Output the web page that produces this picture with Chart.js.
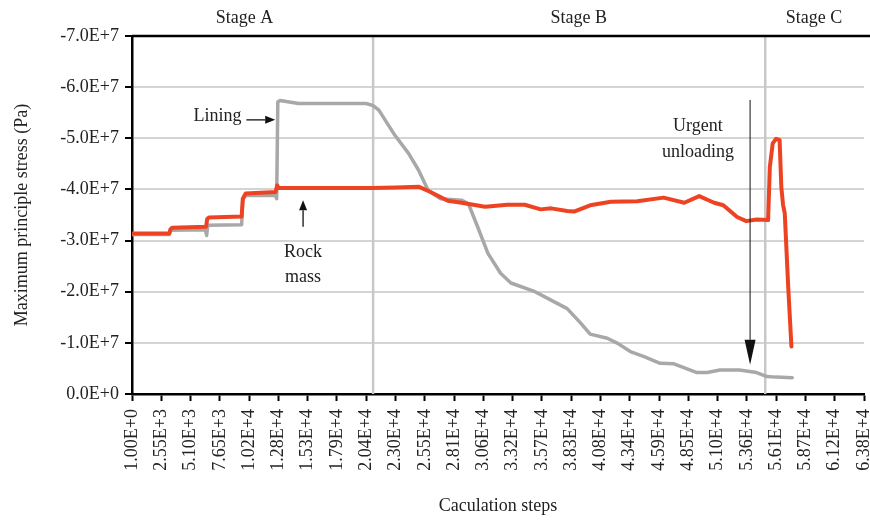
<!DOCTYPE html>
<html>
<head>
<meta charset="utf-8">
<script src="https://cdn.jsdelivr.net/npm/chart.js@4.4.0/dist/chart.umd.min.js"></script>
<style>
html,body{margin:0;padding:0;background:#fff;}
#wrap{width:870px;height:524px;}
</style>
</head>
<body>
<div id="wrap"><canvas id="c" width="870" height="524"></canvas></div>
<script>
// ---- data ----
const xTickValues = [1,2551,5101,7651,10201,12751,15301,17851,20401,22951,25501,28051,30601,33151,35701,38251,40801,43351,45901,48451,51001,53551,56101,58651,61201,63751];
const xTickLabels = ["1.00E+0","2.55E+3","5.10E+3","7.65E+3","1.02E+4","1.28E+4","1.53E+4","1.79E+4","2.04E+4","2.30E+4","2.55E+4","2.81E+4","3.06E+4","3.32E+4","3.57E+4","3.83E+4","4.08E+4","4.34E+4","4.59E+4","4.85E+4","5.10E+4","5.36E+4","5.61E+4","5.87E+4","6.12E+4","6.38E+4"];

// Rock mass (red)
const rockSteps  = [1,3250,3350,3500,6450,6550,6700,9550,9650,9900,12500,12650,12750,12900,14000,20900,23000,25000,26000,27500,28700,30750,32700,34200,35600,36500,37900,38550,39900,41700,44000,46300,48100,49400,50700,51500,52700,53500,54400,55400,55550,55800,56100,56400,56550,56700,56850,57150,57430];
const rockStress = [-3.14,-3.14,-3.22,-3.25,-3.27,-3.42,-3.45,-3.47,-3.82,-3.92,-3.95,-4.08,-4.03,-4.03,-4.03,-4.03,-4.04,-4.05,-3.95,-3.78,-3.74,-3.66,-3.70,-3.70,-3.61,-3.63,-3.58,-3.57,-3.69,-3.76,-3.77,-3.84,-3.74,-3.87,-3.74,-3.69,-3.46,-3.38,-3.41,-3.40,-4.44,-4.90,-4.99,-4.97,-4.05,-3.70,-3.53,-2.10,-0.93];

// Lining (gray)
const liningSteps  = [1,3250,3350,6400,6500,6600,9550,9650,9900,12500,12600,12700,12900,14500,20400,21000,21500,22800,24100,24950,25800,26850,28700,29300,30100,31000,32100,33000,35100,36200,37900,39100,39900,41400,42300,43400,44600,46000,47200,49200,50100,51200,52900,54400,55300,56100,57500];
const liningStress = [-3.12,-3.12,-3.20,-3.21,-3.10,-3.30,-3.31,-3.80,-3.88,-3.88,-3.82,-5.71,-5.74,-5.68,-5.68,-5.64,-5.55,-5.09,-4.70,-4.38,-3.98,-3.82,-3.79,-3.72,-3.27,-2.75,-2.36,-2.17,-2.00,-1.87,-1.67,-1.38,-1.17,-1.09,-0.99,-0.83,-0.73,-0.60,-0.59,-0.42,-0.42,-0.47,-0.47,-0.42,-0.34,-0.33,-0.32];

const stageBounds = [21000, 55150];
const stageNames = ["Stage A","Stage B","Stage C"];
const stageLabelX = [9800, 38900, 59400];
const E7 = 1e7;

const FONT = "'Liberation Serif', 'DejaVu Serif', serif";

function toXY(xs, ys){ return xs.map((x,i)=>({x:x, y:ys[i]*E7})); }

const annot = {
  id:'annot',
  beforeDatasetsDraw(chart){
    const {ctx, chartArea:a, scales:{x,y}} = chart;
    ctx.save();
    ctx.strokeStyle = '#c8c8c8';
    ctx.lineWidth = 2.5;
    stageBounds.forEach(v=>{
      const px = x.getPixelForValue(v);
      ctx.beginPath(); ctx.moveTo(px, a.top); ctx.lineTo(px, a.bottom); ctx.stroke();
    });
    ctx.restore();
  },
  afterDraw(chart){
    const {ctx, chartArea:a, scales:{x,y}} = chart;
    ctx.save();
    ctx.fillStyle = '#222';
    ctx.font = "18px " + FONT;
    ctx.textBaseline = 'middle';
    ctx.textAlign = 'center';
    stageNames.forEach((s,i)=>{
      ctx.fillText(s, x.getPixelForValue(stageLabelX[i]), a.top - 18);
    });
    // top border
    ctx.strokeStyle = '#000';
    ctx.lineWidth = 2.5;
    ctx.beginPath(); ctx.moveTo(a.left, a.top); ctx.lineTo(chart.width, a.top); ctx.stroke();

    // Lining label
    ctx.textAlign = 'right';
    ctx.fillText('Lining', x.getPixelForValue(9530), y.getPixelForValue(-5.44*E7));
    arrow(ctx, x.getPixelForValue(9960), y.getPixelForValue(-5.36*E7), x.getPixelForValue(12470), y.getPixelForValue(-5.36*E7), 1.3, 10, 4);
    // Rock mass
    ctx.textAlign = 'center';
    const rx = x.getPixelForValue(14900);
    ctx.fillText('Rock', rx, y.getPixelForValue(-2.78*E7));
    ctx.fillText('mass', rx, y.getPixelForValue(-2.29*E7));
    arrow(ctx, rx, y.getPixelForValue(-3.27*E7), rx, y.getPixelForValue(-3.79*E7), 1.3, 10, 4);
    // Urgent unloading
    const ux = x.getPixelForValue(49290);
    ctx.fillText('Urgent', ux, y.getPixelForValue(-5.24*E7));
    ctx.fillText('unloading', ux, y.getPixelForValue(-4.73*E7));
    const ax = x.getPixelForValue(53830);
    arrow(ctx, ax, y.getPixelForValue(-5.75*E7), ax, y.getPixelForValue(-0.57*E7), 1, 25, 5.5);
    ctx.restore();
  }
};

function arrow(ctx, x1, y1, x2, y2, lw, hl, hw){
  const ang = Math.atan2(y2-y1, x2-x1);
  const bx = x2 - hl*Math.cos(ang), by = y2 - hl*Math.sin(ang);
  ctx.save();
  ctx.strokeStyle = '#111'; ctx.fillStyle = '#111';
  ctx.lineWidth = lw;
  ctx.beginPath(); ctx.moveTo(x1,y1); ctx.lineTo(bx,by); ctx.stroke();
  ctx.beginPath();
  ctx.moveTo(x2,y2);
  ctx.lineTo(bx + hw*Math.sin(ang), by - hw*Math.cos(ang));
  ctx.lineTo(bx - hw*Math.sin(ang), by + hw*Math.cos(ang));
  ctx.closePath(); ctx.fill();
  ctx.restore();
}

new Chart(document.getElementById('c'), {
  type:'line',
  data:{
    datasets:[
      {label:'Rock mass', data:toXY(rockSteps, rockStress), borderColor:'#EE4323', borderWidth:4, pointRadius:0, tension:0, order:0, borderJoinStyle:'round', borderCapStyle:'round'},
      {label:'Lining', data:toXY(liningSteps, liningStress), borderColor:'#a8a8a8', borderWidth:3.5, pointRadius:0, tension:0, order:1, borderJoinStyle:'round', borderCapStyle:'round'}
    ]
  },
  options:{
    responsive:false,
    animation:false,
    events:[],
    layout:{padding:{top:36, right:6, left:0, bottom:0}},
    plugins:{legend:{display:false}, tooltip:{enabled:false}},
    scales:{
      x:{
        type:'linear', min:1, max:63751,
        afterBuildTicks(s){ s.ticks = xTickValues.map(v=>({value:v})); },
        afterFit(s){ s.height = 130; s.paddingLeft = 0; s.paddingRight = 0; },
        ticks:{
          autoSkip:false, minRotation:90, maxRotation:90, padding:8,
          color:'#222', font:{family:FONT, size:18},
          callback:(v,i)=>xTickLabels[i]
        },
        grid:{drawOnChartArea:false, drawTicks:true, tickLength:7, tickColor:'#000', tickWidth:2},
        border:{display:true, color:'#000', width:2.5},
        title:{display:true, text:'Caculation steps', color:'#222', font:{family:FONT, size:18}, padding:{top:0,bottom:7}}
      },
      y:{
        type:'linear', min:-7*E7, max:0, reverse:true,
        afterBuildTicks(s){ const t=[]; for(let k=0;k>=-7;k--) t.push({value:k*E7}); s.ticks=t; },
        afterFit(s){ s.width = 132; s.paddingTop = 0; s.paddingBottom = 0; },
        ticks:{
          color:'#222', padding:6, font:{family:FONT, size:18},
          callback:(v)=> v===0 ? '0.0E+0' : (v/E7).toFixed(1)+'E+7'
        },
        grid:{color:'#d4d4d4', lineWidth:2, tickLength:7, tickColor:'#000', tickWidth:2},
        border:{display:true, color:'#000', width:2.5},
        title:{display:true, text:'Maximum principle stress (Pa)', color:'#222', font:{family:FONT, size:18}, padding:{top:11,bottom:0}}
      }
    }
  },
  plugins:[annot]
});
</script>
</body>
</html>
